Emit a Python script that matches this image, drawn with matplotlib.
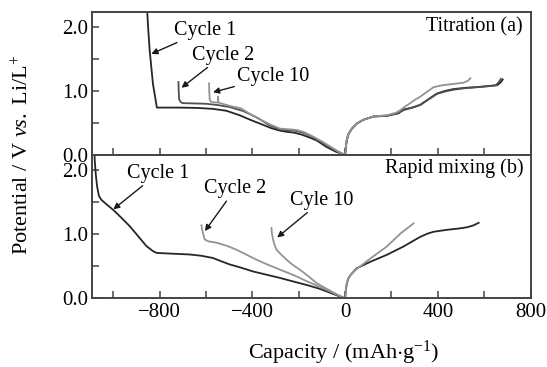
import matplotlib
matplotlib.use("Agg")
import matplotlib.pyplot as plt
from matplotlib.ticker import MultipleLocator, FormatStrFormatter

plt.rcParams['font.family'] = ['Liberation Serif', 'DejaVu Serif']
plt.rcParams['mathtext.fontset'] = 'custom'
plt.rcParams['mathtext.rm'] = 'Liberation Serif'
plt.rcParams['mathtext.it'] = 'Liberation Serif:italic'
plt.rcParams['axes.unicode_minus'] = True

# ---------------- Data: Titration (a) ----------------
ta_c1_dis_x = [-856, -850, -843, -829, -812, -760, -714, -640, -570, -512, -455, -410, -368, -320, -282, -250, -224, -190, -152, -120, -83, -40, 0]
ta_c1_dis_y = [2.40, 2.00, 1.63, 1.11, 0.74, 0.74, 0.74, 0.735, 0.72, 0.69, 0.62, 0.55, 0.49, 0.42, 0.38, 0.36, 0.35, 0.32, 0.27, 0.22, 0.13, 0.05, 0.0]
ta_c2_dis_x = [-719, -718, -716, -710, -702, -650, -601, -550, -500, -443, -400, -371, -330, -284, -250, -220, -184, -150, -126, -68, -30, 0]
ta_c2_dis_y = [1.14, 1.00, 0.87, 0.83, 0.81, 0.805, 0.80, 0.78, 0.75, 0.69, 0.62, 0.565, 0.47, 0.40, 0.385, 0.38, 0.35, 0.30, 0.25, 0.13, 0.05, 0.0]
ta_c10_dis_x = [-587, -586, -584, -578, -560, -549, -548, -547, -520, -490, -450, -410, -370, -320, -280, -240, -210, -180, -140, -100, -60, -25, 0]
ta_c10_dis_y = [1.12, 0.98, 0.86, 0.83, 0.82, 0.82, 0.91, 0.82, 0.79, 0.76, 0.73, 0.64, 0.56, 0.47, 0.41, 0.40, 0.39, 0.36, 0.29, 0.21, 0.12, 0.04, 0.0]
ta_c1_chg_x = [0, 3, 7, 15, 29, 50, 79, 122, 180, 230, 252, 290, 324, 367, 396, 430, 468, 520, 569, 626, 655, 670, 680]
ta_c1_chg_y = [0.0, 0.12, 0.23, 0.33, 0.41, 0.49, 0.55, 0.60, 0.61, 0.65, 0.71, 0.74, 0.78, 0.89, 0.96, 1.00, 1.03, 1.05, 1.06, 1.08, 1.09, 1.13, 1.18]
ta_c2_chg_x = [0, 3, 7, 15, 29, 50, 79, 122, 180, 230, 252, 290, 324, 367, 396, 430, 468, 520, 569, 620, 650, 663, 672]
ta_c2_chg_y = [0.0, 0.12, 0.23, 0.33, 0.41, 0.49, 0.55, 0.60, 0.615, 0.655, 0.70, 0.74, 0.785, 0.885, 0.955, 0.99, 1.02, 1.045, 1.06, 1.075, 1.09, 1.14, 1.19]
ta_c10_chg_x = [0, 3, 7, 15, 29, 50, 79, 122, 180, 220, 238, 260, 281, 300, 324, 350, 382, 420, 468, 511, 530, 540]
ta_c10_chg_y = [0.0, 0.12, 0.23, 0.33, 0.41, 0.49, 0.55, 0.60, 0.62, 0.66, 0.70, 0.76, 0.81, 0.86, 0.91, 0.98, 1.06, 1.09, 1.11, 1.13, 1.16, 1.20]

# ---------------- Data: Rapid mixing (b) ----------------
rm_c1_dis_x = [-1083, -1080, -1076, -1070, -1062, -1052, -1030, -1000, -960, -930, -895, -858, -830, -814, -760, -700, -670, -620, -570, -535, -498, -450, -397, -340, -282, -220, -167, -110, -66, -30, 0]
rm_c1_dis_y = [2.40, 2.15, 1.95, 1.75, 1.60, 1.54, 1.47, 1.38, 1.24, 1.13, 0.98, 0.82, 0.74, 0.71, 0.70, 0.69, 0.685, 0.665, 0.63, 0.58, 0.53, 0.48, 0.42, 0.37, 0.32, 0.26, 0.21, 0.15, 0.09, 0.04, 0.0]
rm_c2_dis_x = [-620, -617, -612, -606, -590, -555, -510, -469, -430, -383, -330, -282, -220, -167, -110, -60, 0]
rm_c2_dis_y = [1.14, 1.08, 1.00, 0.92, 0.89, 0.87, 0.82, 0.76, 0.69, 0.605, 0.52, 0.45, 0.36, 0.27, 0.18, 0.10, 0.0]
rm_c10_dis_x = [-318, -316, -311, -305, -296, -275, -253, -225, -196, -160, -124, -80, -40, 0]
rm_c10_dis_y = [1.10, 1.02, 0.92, 0.84, 0.76, 0.68, 0.605, 0.52, 0.45, 0.35, 0.24, 0.15, 0.07, 0.0]
rm_c1_chg_x = [0, 3, 7, 14, 22, 50, 108, 180, 252, 290, 324, 355, 382, 439, 490, 526, 554, 576]
rm_c1_chg_y = [0.0, 0.12, 0.23, 0.31, 0.36, 0.47, 0.57, 0.68, 0.81, 0.89, 0.96, 1.01, 1.04, 1.07, 1.09, 1.11, 1.14, 1.18]
rm_c2_chg_x = [0, 3, 7, 14, 22, 50, 65, 108, 180, 238, 270, 295]
rm_c2_chg_y = [0.0, 0.12, 0.23, 0.31, 0.36, 0.46, 0.50, 0.62, 0.81, 1.01, 1.10, 1.17]

x_major = [-800, -400, 0, 400, 800]
y_major = [0.0, 1.0, 2.0]

DARK = '#262626'
MID = '#505050'
GREY = '#939393'
SPINE = '#444444'

fig = plt.figure(figsize=(5.47, 3.67), dpi=100)
L, W = 0.169, 0.801
ax_a = fig.add_axes([L, 0.578, W, 0.390])
ax_b = fig.add_axes([L, 0.187, W, 0.391])

def style(ax, show_xlabels):
    ax.set_xlim(-1090, 800)
    ax.set_ylim(0, 2.24)
    ax.xaxis.set_major_locator(plt.FixedLocator(x_major))
    ax.xaxis.set_minor_locator(MultipleLocator(200))
    ax.yaxis.set_major_locator(plt.FixedLocator(y_major))
    ax.yaxis.set_minor_locator(MultipleLocator(0.5))
    ax.yaxis.set_major_formatter(FormatStrFormatter('%.1f'))
    ax.tick_params(which='both', direction='in', length=5, width=1.1, color=SPINE,
                   labelsize=15, top=False, right=False, pad=3)
    if not show_xlabels:
        ax.tick_params(axis='x', labelbottom=False)
    for s in ax.spines.values():
        s.set_color(SPINE)
        s.set_linewidth(1.4)

style(ax_a, False)
style(ax_b, True)

lw = 1.3
# (a)
ax_a.plot(ta_c1_dis_x, ta_c1_dis_y, color=DARK, lw=lw)
ax_a.plot(ta_c2_dis_x, ta_c2_dis_y, color=MID, lw=lw)
ax_a.plot(ta_c10_dis_x, ta_c10_dis_y, color=GREY, lw=lw)
ax_a.plot(ta_c1_chg_x, ta_c1_chg_y, color=DARK, lw=lw)
ax_a.plot(ta_c2_chg_x, ta_c2_chg_y, color=MID, lw=lw)
ax_a.plot(ta_c10_chg_x, ta_c10_chg_y, color=GREY, lw=lw)
# (b)
ax_b.plot(rm_c1_dis_x, rm_c1_dis_y, color=DARK, lw=lw)
ax_b.plot(rm_c2_dis_x, rm_c2_dis_y, color=GREY, lw=lw)
ax_b.plot(rm_c10_dis_x, rm_c10_dis_y, color=GREY, lw=lw)
ax_b.plot(rm_c1_chg_x, rm_c1_chg_y, color=DARK, lw=lw)
ax_b.plot(rm_c2_chg_x, rm_c2_chg_y, color=GREY, lw=lw)

ap = dict(arrowstyle='-|>', color='#1a1a1a', lw=1.0, mutation_scale=9, shrinkA=0, shrinkB=0)
fs = 14.5
ax_a.annotate('Cycle 1', xy=(-836, 1.58), xytext=(-740, 1.95), fontsize=fs, va='center', ha='left', arrowprops=ap)
ax_a.annotate('Cycle 2', xy=(-706, 1.05), xytext=(-660, 1.56), fontsize=fs, va='center', ha='left', arrowprops=ap)
ax_a.annotate('Cycle 10', xy=(-570, 0.98), xytext=(-466, 1.23), fontsize=fs, va='center', ha='left', arrowprops=ap)
ax_b.annotate('Cycle 1', xy=(-1000, 1.39), xytext=(-942, 1.95), fontsize=fs, va='center', ha='left', arrowprops=ap)
ax_b.annotate('Cycle 2', xy=(-605, 1.05), xytext=(-608, 1.71), fontsize=fs, va='center', ha='left', arrowprops=ap)
ax_b.annotate('Cyle 10', xy=(-293, 0.95), xytext=(-236, 1.53), fontsize=fs, va='center', ha='left', arrowprops=ap)

ax_a.text(0.982, 2.0, 'Titration (a)', transform=ax_a.get_yaxis_transform(), ha='right', va='center', fontsize=fs)
ax_b.text(0.985, 2.03, 'Rapid mixing (b)', transform=ax_b.get_yaxis_transform(), ha='right', va='center', fontsize=fs)

fig.text(0.042, 0.578, r'Potential / V $\it{vs.}$ Li/L$^{+}$', rotation=90, ha='center', va='center', fontsize=16)
fig.text(0.629, 0.038, r'Capacity / (mAh$\cdot$g$^{-1}$)', ha='center', va='center', fontsize=16)

fig.savefig('out.png', dpi=100)
